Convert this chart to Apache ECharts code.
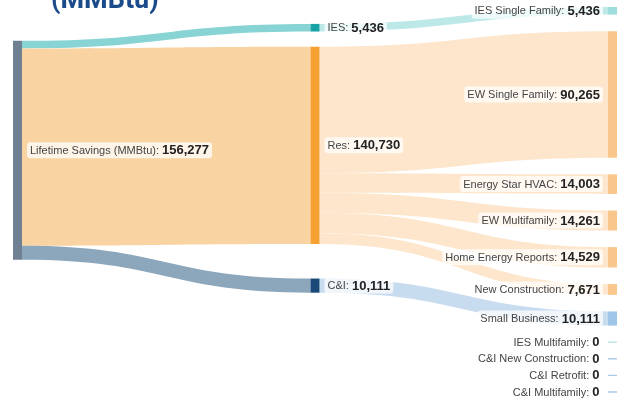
<!DOCTYPE html>
<html>
<head>
<meta charset="utf-8">
<script src="https://cdn.jsdelivr.net/npm/echarts@6/dist/echarts.min.js"></script>
<style>
  html, body { margin: 0; padding: 0; background: #fff; }
  #main { width: 629px; height: 404px; }
</style>
</head>
<body>
<div id="main"></div>
<script>
// nodes, top to bottom per column
const nodeNames = [
  'Lifetime Savings (MMBtu)',
  'IES', 'Res', 'C&I',
  'IES Single Family', 'EW Single Family', 'Energy Star HVAC', 'EW Multifamily',
  'Home Energy Reports', 'New Construction', 'Small Business',
  'IES Multifamily', 'C&I New Construction', 'C&I Retrofit', 'C&I Multifamily'
]
// programs with no savings
const zeroNodes = ['IES Multifamily', 'C&I New Construction', 'C&I Retrofit', 'C&I Multifamily']
const zeroValues = [0, 0, 0, 0]

// flows
const linkSources = [
  'Lifetime Savings (MMBtu)', 'Lifetime Savings (MMBtu)', 'Lifetime Savings (MMBtu)',
  'IES', 'Res', 'Res', 'Res', 'Res', 'Res', 'C&I'
]
const linkTargets = [
  'IES', 'Res', 'C&I',
  'IES Single Family', 'EW Single Family', 'Energy Star HVAC', 'EW Multifamily',
  'Home Energy Reports', 'New Construction', 'Small Business'
]
const linkValues = [5436, 140730, 10111, 5436, 90265, 14003, 14261, 14529, 7671, 10111]

// 颜色
const nodeColors = {
  'Lifetime Savings (MMBtu)': '#6e8092',
  'IES': '#17a3a5',
  'Res': '#f5a031',
  'C&I': '#1b4a78',
  'IES Single Family': '#9fdcdc',
  'Small Business': '#9fc5e8',
  'IES Multifamily': '#bfe6e6'
}
const resChildColor = '#f9c78c'
const zeroColor = '#a9c9e9'
const linkColors = {
  'IES': '#88d4d4',
  'Res': '#f9d4a2',
  'C&I': '#8ca6bb',
  'IES Single Family': '#bde8e8',
  'Small Business': '#c8dcf0'
}
const resLinkColor = '#fde6cb'

const fmt = v => Number(v).toLocaleString('en-US')

const labelRich = {
  n: { fontSize: 11, color: '#444', fontFamily: 'Liberation Sans' },
  v: { fontSize: 13, color: '#222', fontWeight: 'bold', fontFamily: 'Liberation Sans' }
}

const leftSide = name => linkTargets.indexOf(name) >= 3 || zeroNodes.indexOf(name) >= 0

// build node list, localYs = optional relaxed positions (0-1 of series height)
function buildNodes(localYs) {
  return nodeNames.map((name, i) => {
    const zi = zeroNodes.indexOf(name)
    const isZero = zi >= 0
    const color = nodeColors[name] || (isZero ? zeroColor : resChildColor)
    const item = {
      name: name,
      itemStyle: { color: color, borderWidth: isZero ? 1 : 0, borderColor: color },
      label: {
        position: leftSide(name) ? 'left' : 'right',
        distance: 5
      }
    }
    if (isZero) {
      item.value = zeroValues[zi]
      item.depth = 2
    }
    if (localYs && localYs[i] != null) item.localY = localYs[i]
    return item
  })
}

const links = linkValues.map((v, i) => ({
  source: linkSources[i],
  target: linkTargets[i],
  value: v,
  lineStyle: {
    color: linkColors[linkTargets[i]] || resLinkColor,
    opacity: 1
  }
}))

const chart = echarts.init(document.getElementById('main'))
const option = {
  backgroundColor: '#fff',
  animation: false,
  title: {
    text: '(MMBtu)',
    left: 46,
    top: -17,
    textStyle: { fontSize: 27, fontWeight: 'bold', color: '#1b4b8a', fontFamily: 'Roboto' }
  },
  series: [{
    type: 'sankey',
    left: 13,
    right: 12,
    top: 7,
    bottom: 12,
    nodeWidth: 9,
    nodeGap: 16.6,
    layoutIterations: 0,
    draggable: false,
    emphasis: { disabled: true },
    data: buildNodes(),
    links: links,
    lineStyle: { curveness: 0.5, opacity: 1 },
    label: {
      formatter: p => '{n|' + p.name + ': }{v|' + fmt(p.value) + '}',
      rich: labelRich,
      backgroundColor: 'rgba(255,255,255,0.75)',
      borderRadius: 3,
      padding: [2, 3, 1, 3]
    }
  }]
}
chart.setOption(option)

// 用 ECharts 自己的布局结果，把前两列按流向居中（类似 d3-sankey 的松弛）
const seriesModel = chart.getModel().getSeriesByIndex(0)
const graph = seriesModel.getGraph()
const viewHeight = seriesModel.layoutInfo.height
const avgTarget = node => {
  let s = 0, w = 0
  node.outEdges.forEach(e => {
    const v = e.getValue()
    s += (e.node2.getLayout().y + e.getLayout().ty - e.getLayout().sy) * v
    w += v
  })
  return s / w
}
const middle = graph.nodes.filter(n => n.getLayout().depth === 1)
const source = graph.nodes.filter(n => n.getLayout().depth === 0 && n.outEdges.length)
const rightY = {}
middle.forEach(n => { rightY[n.dataIndex] = avgTarget(n) })
const localYs = []
source.forEach(n => {
  let s = 0, w = 0
  n.outEdges.forEach(e => {
    const v = e.getValue()
    s += (rightY[e.node2.dataIndex] + e.getLayout().ty - e.getLayout().sy) * v
    w += v
  })
  rightY[n.dataIndex] = s / w
  localYs[n.dataIndex] = rightY[n.dataIndex] / viewHeight
})
middle.forEach(n => {
  let s = 0, w = 0
  n.inEdges.forEach(e => {
    const v = e.getValue()
    s += (rightY[e.node1.dataIndex] + e.getLayout().sy - e.getLayout().ty) * v
    w += v
  })
  localYs[n.dataIndex] = ((s / w) + rightY[n.dataIndex]) / 2 / viewHeight
})
chart.setOption({ series: [{ data: buildNodes(localYs) }] })
</script>
</body>
</html>
